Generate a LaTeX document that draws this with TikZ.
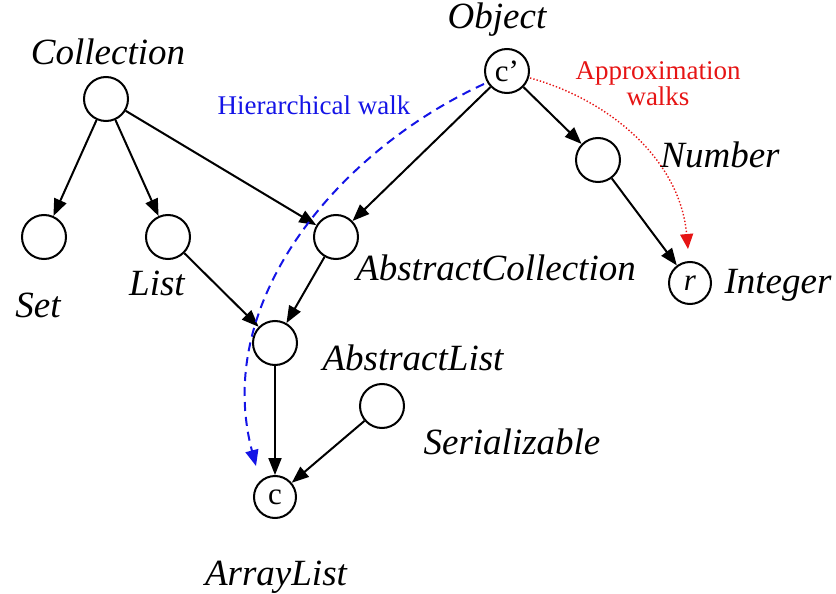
\documentclass[tikz,border=0pt]{standalone}
\usepackage{fontspec}
\setmainfont{Liberation Serif}
\usetikzlibrary{arrows.meta}
\definecolor{walkblue}{RGB}{20,20,230}
\definecolor{walkred}{RGB}{230,20,20}
\begin{document}
\begin{tikzpicture}[x=1pt,y=-1pt,
  cls/.style={circle,draw,line width=2pt,minimum size=44pt,inner sep=0pt,font=\rmfamily\fontsize{31}{32}\selectfont},
  lab/.style={font=\rmfamily\fontsize{37}{40}\selectfont\itshape,inner sep=0pt},
  walk/.style={font=\rmfamily\fontsize{27}{30}\selectfont,inner sep=0pt,align=center},
  arr/.style={line width=2pt,-{Triangle[length=17pt,width=13pt]}}
]
\useasboundingbox (0,0) rectangle (836,594);
% class nodes
\node[cls] (coll) at (106,99) {};
\node[cls] (set) at (44,237) {};
\node[cls] (list) at (168,237) {};
\node[cls] (acoll) at (336,237) {};
\node[cls] (alist) at (275,343) {};
\node[cls] (ser) at (382,406) {};
\node[cls,minimum size=42pt] (alst) at (275,497) {c};
\node[cls] (obj) at (507,71) {c’};
\node[cls] (num) at (598,160) {};
\node[cls,minimum size=42pt] (int) at (690,283) {\itshape r};
% labels
\node[lab] (lcoll) at (108,52) {Collection};
\node[lab] (lobj) at (497,20) {Object};
\node[lab] (lset) at (38,305) {Set};
\node[lab] (llist) at (157,283) {List};
\node[lab] (lacoll) at (496,268) {AbstractCollection};
\node[lab] (lalist) at (413,358) {AbstractList};
\node[lab] (lser) at (512,442) {Serializable};
\node[lab] (lalst) at (276,577) {ArrayList};
\node[lab] (lnum) at (720,155) {Number};
\node[lab] (lint) at (778,285) {Integer};
\node[walk,text=walkblue] (hw) at (314,105) {Hierarchical walk};
\node[walk,text=walkred] (aw) at (658,84) {Approximation\\[-4pt]walks};
% edges
\draw[arr] (coll) -- (set);
\draw[arr] (coll) -- (list);
\draw[arr] (coll) -- (acoll);
\draw[arr] (list) -- (alist);
\draw[arr] (acoll) -- (alist);
\draw[arr] (obj) -- (acoll);
\draw[arr] (obj) -- (num);
\draw[arr] (num) -- (int);
\draw[arr] (alist) -- (alst);
\draw[arr] (ser) -- (alst);
% walks
\coordinate (bs) at (484,84);
\coordinate (be) at (256,466);
\coordinate (rs) at (530,78);
\coordinate (re) at (688,249);
\draw[walkblue,line width=2pt,dash pattern=on 9pt off 6pt,-{Triangle[length=16pt,width=13pt]}]
  (bs) .. controls (340,150) and (212,300) .. (be);
\draw[walkred,line width=1.4pt,dash pattern=on 1.4pt off 2pt,-{Triangle[length=15pt,width=13pt]}]
  (rs) .. controls (610,100) and (680,160) .. (re);
\end{tikzpicture}
\end{document}
